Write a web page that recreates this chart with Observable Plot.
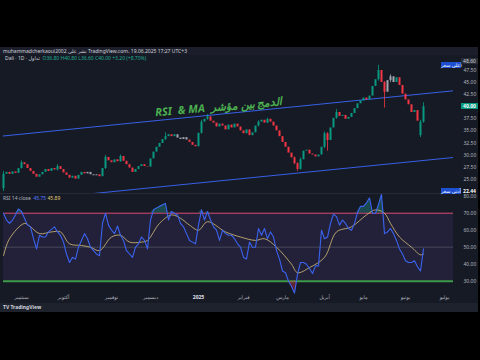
<!DOCTYPE html>
<html><head><meta charset="utf-8">
<script src="https://cdn.jsdelivr.net/npm/d3@7"></script>
<script src="https://cdn.jsdelivr.net/npm/@observablehq/plot@0.6"></script>
<style>
html,body{margin:0;padding:0;background:#000;}
#wrap{position:relative;width:480px;height:360px;background:#000;overflow:hidden;font-family:"Noto Sans","DejaVu Sans",sans-serif;}
.abs{position:absolute;}
.t5{font-size:5px;line-height:6px;white-space:nowrap;color:#c9ccd4;}
</style></head><body>
<div id="wrap">
  <div class="abs" style="left:0;top:47px;width:478px;height:265px;background:#161a25"></div>
  <div class="abs" style="left:0;top:47px;width:478px;height:8px;background:#1b1e2a"></div>
  <div class="abs" style="left:0;top:303px;width:478px;height:9px;background:#1e222d"></div>
  <div class="abs" style="left:0;top:193px;width:455px;height:1px;background:#262a36"></div>
  <div id="price" class="abs" style="left:0;top:55px;width:480px"></div>
  <div id="rsi" class="abs" style="left:0;top:193px;width:480px"></div>
  <div class="abs t5" style="left:3px;top:48px;color:#d1d4dc">muhammadcherkaoui2002 نشر على TradingView.com، 19.06.2025 17:27 UTC+3</div>
  <div class="abs t5" style="left:5px;top:55px;color:#d1d4dc">Dali · 1D · تداول &nbsp;<span style="color:#22ab94">O36.80 H40.80 L36.60 C40.00 +3.20 (+8.70%)</span></div>
  <div class="abs t5" style="left:3px;top:195px;color:#b2b5be">RSI 14 close &nbsp;<span style="color:#5b7cff">45.75</span> <span style="color:#e0c872">45.89</span></div>
  <div class="abs t5" style="left:3px;top:304px;color:#d1d4dc;font-weight:bold">TV TradingView</div>
  <div id="ov"></div>
</div>
<script>
// ---- data ----
const monthIdx = [6, 20, 36, 49, 65, 80, 93, 107, 120, 134, 147];
const monthLabels = ["سبتمبر","أكتوبر","نوفمبر","ديسمبر","2025","فبراير","مارس","أبريل","مايو","يونيو","يوليو"];
const priceTicks = [25, 27.5, 30, 32.5, 35, 37.5, 40, 42.5, 45, 47.5];
const rsiTicks = [30, 40, 50, 60, 70, 80];

const opens = [
 23.0, 26.0, 26.4, 26.0, 26.5, 26.2, 27.2, 28.4, 28.0, 27.2,
 26.6, 26.0, 25.4, 25.9, 26.4, 27.0, 26.6, 27.2, 26.9, 27.6,
 27.0, 26.3, 25.8, 25.2, 25.6, 25.0, 25.8, 26.4, 26.1, 26.4,
 25.9, 25.7, 25.9, 25.5, 27.2, 29.5, 28.8, 28.4, 29.0, 28.6,
 29.7, 28.7, 28.0, 27.3, 26.4, 27.0, 27.6, 28.0, 27.6, 27.5,
 29.2, 30.6, 31.6, 32.4, 33.2, 33.8, 34.2, 33.8, 34.2, 33.5,
 33.2, 33.6, 33.1, 32.6, 32.0, 31.7, 34.5, 36.8, 37.4, 37.9,
 37.0, 36.6, 35.8, 36.4, 36.0, 35.2, 36.2, 35.6, 36.4, 35.8,
 35.0, 34.4, 35.2, 34.0, 34.6, 36.0, 36.8, 37.2, 36.6, 37.4,
 36.8, 36.0, 35.0, 33.8, 32.6, 31.6, 30.4, 29.4, 28.2, 27.0,
 29.0, 30.8, 31.0, 30.2, 30.0, 29.6, 30.0, 31.6, 34.4, 33.0,
 35.6, 37.6, 38.8, 38.0, 38.2, 37.4, 37.8, 38.6, 39.6, 40.6,
 41.2, 41.8, 41.4, 42.2, 44.2, 45.6, 47.5, 45.0, 43.0, 45.4,
 46.2, 45.0, 46.0, 44.4, 42.6, 41.4, 40.4, 38.8, 39.2, 34.0,
 36.8];
const closes = [
 26.0, 26.4, 26.0, 26.5, 26.2, 27.2, 28.4, 28.0, 27.2, 26.6,
 26.0, 25.4, 25.9, 26.4, 27.0, 26.6, 27.2, 26.9, 27.6, 27.0,
 26.3, 25.8, 25.2, 25.6, 25.0, 25.8, 26.4, 26.1, 26.4, 25.9,
 25.7, 25.9, 25.5, 27.2, 29.5, 28.8, 28.4, 29.0, 28.6, 29.7,
 28.7, 28.0, 27.3, 26.4, 27.0, 27.6, 28.0, 27.6, 27.5, 29.2,
 30.6, 31.6, 32.4, 33.2, 33.8, 34.2, 33.8, 34.2, 33.5, 33.2,
 33.6, 33.1, 32.6, 32.0, 31.7, 34.5, 36.8, 37.4, 37.9, 37.0,
 36.6, 35.8, 36.4, 36.0, 35.2, 36.2, 35.6, 36.4, 35.8, 35.0,
 34.4, 35.2, 34.0, 34.6, 36.0, 36.8, 37.2, 36.6, 37.4, 36.8,
 36.0, 35.0, 33.8, 32.6, 31.6, 30.4, 29.4, 28.2, 27.0, 29.0,
 30.8, 31.0, 30.2, 30.0, 29.6, 30.0, 31.6, 34.4, 33.0, 35.6,
 37.6, 38.8, 38.0, 38.2, 37.4, 37.8, 38.6, 39.6, 40.6, 41.2,
 41.8, 41.4, 42.2, 44.2, 45.6, 47.5, 45.0, 43.0, 45.4, 46.2,
 45.0, 46.0, 44.4, 42.6, 41.4, 40.4, 38.8, 39.2, 37.0, 36.8,
 40.0];
const wickIdx = [0, 6, 18, 34, 39, 54, 66, 68, 85, 88, 97, 98, 99, 107, 108, 111, 125, 127, 129, 139, 140];
const wickHi  = [26.6, 28.8, 28.0, 29.9, 30.0, 34.6, 37.2, 38.4, 37.1, 37.6, 29.6, 28.4, 29.4, 34.8, 34.6, 39.4, 48.6, 45.2, 46.6, 37.2, 40.8];
const wickLo  = [22.44, 27.1, 26.7, 27.0, 28.5, 33.0, 34.3, 37.2, 35.8, 36.5, 28.0, 26.6, 26.9, 31.3, 30.8, 37.4, 45.3, 39.7, 45.0, 33.6, 36.6];
const grayIdx = [28, 29, 30, 31, 58, 59, 60, 61, 128, 129, 130];

const channelIdx = [-1, 151];
const upperChannel = [33.88, 43.36];
const lowerChannel = [20.10, 29.55];

const rsi = [
 70, 66, 64, 66, 69, 72.5, 71, 67, 63, 62,
 55, 49, 57, 56, 56, 59, 60.5, 62, 59, 57,
 53, 46, 41, 44, 43, 50, 54, 58, 55, 50,
 48, 46, 45, 64, 70, 63, 60, 58, 62.5, 57,
 54, 48, 46, 44, 50, 52, 56, 54, 49, 66,
 72, 73, 74, 75, 75.7, 66, 71, 70, 69, 64,
 62, 58, 54, 53, 52, 63, 72, 66, 71, 66,
 62, 60, 54, 60, 58, 57, 57, 55, 52, 50,
 44, 43, 53, 50, 50, 61, 57, 61, 55, 59,
 56, 48, 43, 36, 35, 30, 27, 23, 34, 41,
 41, 40, 37.5, 34.5, 39, 39, 60, 55, 56, 64,
 69.5, 68, 63, 66, 64, 61, 60, 64, 70.5, 74,
 74, 76, 79, 70, 70, 75, 81, 58, 59, 61,
 58, 54, 49, 46, 42, 41, 41, 42, 38.5, 36,
 49];
const maIdx = [0, 2, 7, 9, 12, 16, 19, 22, 26, 29, 32, 36, 39, 42, 46, 48, 52, 56, 59, 62, 65, 68, 74, 79, 84, 87, 91, 96, 98, 102, 107, 111, 116, 121, 124, 127, 129, 132, 136, 139, 140];
const maVal = [45, 55, 64, 62, 58, 59, 59, 52, 51, 50, 48, 56, 57, 53, 53, 54, 64, 69, 67, 63, 60, 65, 59, 56, 54, 55, 50, 40, 35, 38, 44, 59, 62, 69, 72, 70, 64, 56, 50, 45.5, 46];

const annotation = "الدمج بين مؤشر  RSI  & MA";
const lastPrice = 40.00, highPrice = 48.60, lowPrice = 22.44;

// ---- build ----
const UP = "#089981", DN = "#f23645", GR = "#a3a6af";
const colorOf = i => grayIdx.includes(i) ? GR : (closes[i] >= opens[i] ? UP : DN);
const candles = closes.map((c, i) => ({i, o: opens[i], c}));
const font = "'Noto Sans','DejaVu Sans',sans-serif";
const baseStyle = {background: "transparent", color: "#b2b5be", fontFamily: font, overflow: "visible", maxWidth: "none"};

const price = Plot.plot({
  width: 480, height: 138, marginLeft: 3, marginRight: 27, marginTop: 0, marginBottom: 0,
  x: {domain: [0, 150], axis: null},
  y: {domain: [22.03, 50.6], axis: null},
  style: baseStyle,
  marks: [
    Plot.line(channelIdx, {x: d => d, y: (d, i) => upperChannel[i], stroke: "#3760e6", strokeWidth: 1, clip: true}),
    Plot.line(channelIdx, {x: d => d, y: (d, i) => lowerChannel[i], stroke: "#3760e6", strokeWidth: 1, clip: true}),
    Plot.ruleX(wickIdx, {x: d => d, y1: (d, i) => wickLo[i], y2: (d, i) => wickHi[i], stroke: d => colorOf(d), strokeWidth: 0.8}),
    Plot.ruleX(candles, {x: "i", y1: "o", y2: "c", stroke: d => colorOf(d.i), strokeWidth: 2}),
    Plot.text([annotation], {x: 71.7, y: 39.9, text: d => d, rotate: -5, fill: "#4caf50", fontSize: 11, fontWeight: "bold", fontStyle: "italic"}),
    Plot.axisY({anchor: "right", ticks: priceTicks, tickFormat: d => d.toFixed(2), tickSize: 0, tickPadding: 10, fontSize: 5})
  ]
});
price.querySelectorAll("text").forEach(t => {
  if (t.textContent.includes("الدمج")) { t.setAttribute("direction", "rtl"); t.style.unicodeBidi = "embed"; }
});
document.getElementById("price").appendChild(price);

const rsiPlot = Plot.plot({
  width: 480, height: 112, marginLeft: 3, marginRight: 27, marginTop: 0, marginBottom: 12,
  x: {domain: [0, 150], axis: null},
  y: {domain: [22.76, 81.6], axis: null},
  style: baseStyle,
  marks: [
    Plot.rect([0], {x1: 0, x2: 150, y1: 30, y2: 70, fill: "#7e57c2", fillOpacity: 0.13}),
    Plot.ruleY([70], {stroke: "#d84a72", strokeWidth: 1}),
    Plot.ruleY([50], {stroke: "#787b86", strokeOpacity: 0.7, strokeWidth: 0.6}),
    Plot.ruleY([30], {stroke: "#3d9a4a", strokeWidth: 2}),
    Plot.areaY(rsi, {x: (d, i) => i, y1: 70, y2: d => Math.max(d, 70), fill: "#26a69a", fillOpacity: 0.35}),
    Plot.areaY(rsi, {x: (d, i) => i, y1: 30, y2: d => Math.min(d, 30), fill: "#f23645", fillOpacity: 0.35}),
    Plot.line(maIdx, {x: d => d, y: (d, i) => maVal[i], stroke: "#d6c07a", strokeWidth: 0.8, curve: "catmull-rom"}),
    Plot.lineY(rsi, {x: (d, i) => i, stroke: "#3a63f0", strokeWidth: 1.1}),
    Plot.axisY({anchor: "right", ticks: rsiTicks, tickFormat: d => d.toFixed(2), tickSize: 0, tickPadding: 10, fontSize: 5}),
    Plot.text(monthIdx.filter((d, i) => monthLabels[i] !== "2025"), {x: d => d, text: d => monthLabels[monthIdx.indexOf(d)], frameAnchor: "bottom", dy: 5, fontSize: 5, fill: "#b2b5be"}),
    Plot.text(monthIdx.filter((d, i) => monthLabels[i] === "2025"), {x: d => d, text: d => monthLabels[monthIdx.indexOf(d)], frameAnchor: "bottom", dy: 5, fontSize: 5, fontWeight: "bold", fill: "#e0e3eb"})
  ]
});
document.getElementById("rsi").appendChild(rsiPlot);

// ---- price-scale labels positioned with the plot's own scale ----
const yS = price.scale("y");
const ov = document.getElementById("ov");
function box(left, top, w, bg, color, txt, bold) {
  const d = document.createElement("div");
  d.className = "abs t5";
  d.style.cssText += `left:${left}px;top:${top}px;width:${w}px;height:6px;background:${bg};color:${color};text-align:center;${bold ? "font-weight:bold;" : ""}`;
  d.textContent = txt;
  ov.appendChild(d);
}
const py = v => 55 + yS.apply(v);
box(461, py(lastPrice) - 3, 17, "#089981", "#fff", lastPrice.toFixed(2), true);
box(441, py(highPrice) - 3, 20, "#1f4fd1", "#fff", "أعلى سعر");
box(461, py(highPrice) - 7, 17, "#2a2e39", "#d1d4dc", highPrice.toFixed(2));
box(441, py(lowPrice) - 3, 20, "#1f4fd1", "#fff", "أدنى سعر");
box(461, py(lowPrice) - 3, 17, "#131722", "#fff", lowPrice.toFixed(2), true);
</script>
</body></html>
